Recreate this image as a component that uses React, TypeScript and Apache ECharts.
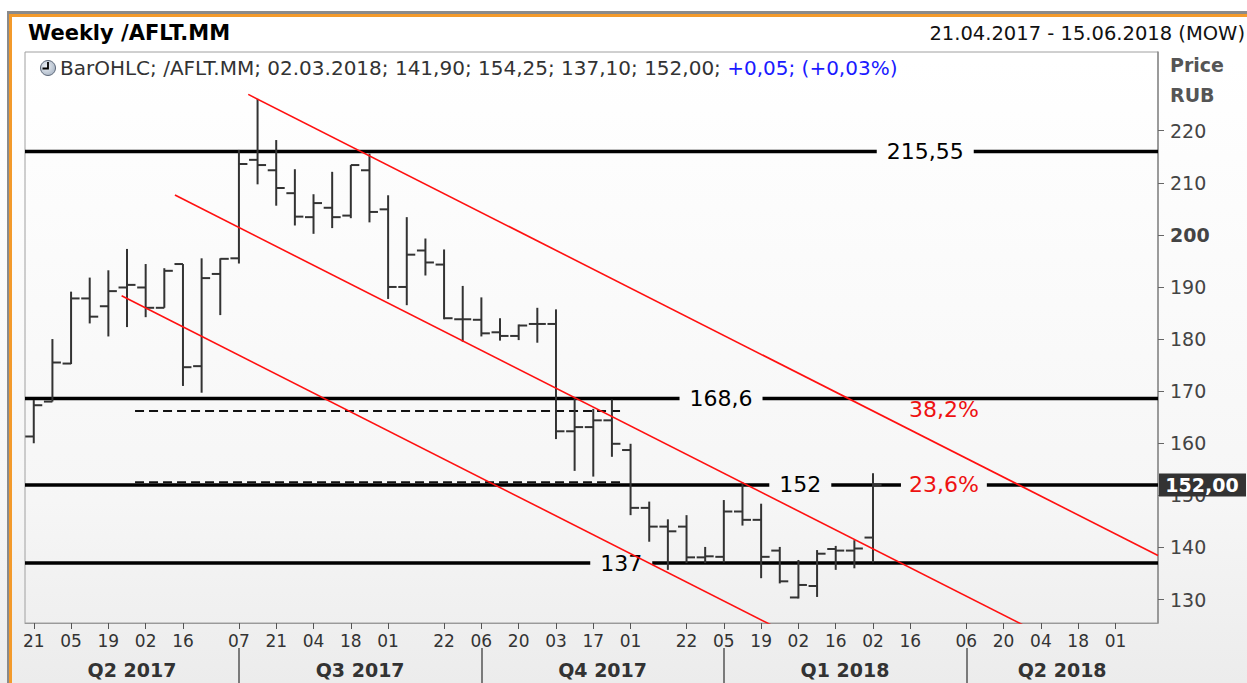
import React, { useEffect, useRef } from "react";
import * as echarts from "echarts";

const FONT = '"DejaVu Sans", Verdana, sans-serif';

// Weekly OHLC bars, index 0 = 21.04.2017 ... index 45 = 02.03.2018
const opens = [161.3, 168.0, 175.3, 187.8, 186.3, 189.9, 189.9, 186.0, 194.4, 174.8, 192.5, 195.5, 214.4, 212.4, 208.0, 203.4, 205.2, 203.7, 212.4, 204.9, 190.0, 197.0, 194.3, 183.8, 183.7, 181.3, 180.6, 182.9, 182.9, 162.3, 163.1, 164.4, 158.7, 147.6, 144.0, 144.0, 138.1, 138.2, 146.9, 145.3, 139.4, 130.4, 132.6, 139.7, 139.4, 141.9];
const highs = [168.3, 180.0, 189.1, 191.8, 193.2, 197.3, 194.4, 193.6, 194.4, 195.5, 195.5, 216.3, 226.1, 218.2, 212.6, 207.8, 212.1, 213.4, 215.6, 207.6, 203.4, 199.3, 197.2, 190.2, 188.0, 184.0, 182.8, 186.0, 185.7, 168.6, 166.6, 168.4, 159.9, 148.8, 145.4, 146.2, 140.1, 149.1, 152.5, 148.4, 140.1, 137.6, 139.5, 140.3, 141.4, 154.25];
const lows = [160.0, 168.0, 175.2, 183.0, 180.5, 182.3, 184.2, 186.0, 171.0, 169.7, 184.6, 194.5, 209.7, 205.6, 201.8, 200.2, 201.3, 203.2, 202.4, 187.7, 186.5, 192.2, 183.8, 179.5, 180.5, 179.7, 179.8, 179.3, 160.8, 154.7, 153.6, 157.4, 146.2, 141.1, 135.7, 137.0, 137.0, 137.1, 144.2, 134.1, 133.1, 130.2, 130.5, 135.7, 136.0, 137.1];
const closes = [167.3, 175.5, 187.8, 184.3, 189.2, 190.4, 186.0, 193.1, 174.6, 191.7, 195.4, 213.6, 213.4, 209.0, 203.5, 206.1, 203.4, 213.4, 204.4, 190.0, 196.2, 194.7, 184.0, 183.8, 181.1, 180.6, 182.6, 182.9, 162.3, 163.1, 164.4, 159.9, 147.6, 144.0, 143.1, 138.1, 138.3, 146.9, 145.3, 138.2, 133.5, 132.8, 138.8, 139.4, 139.8, 152.0];

// x-axis (week index) tick labels
const tickIdx = [0, 2, 4, 6, 8, 11, 13, 15, 17, 19, 22, 24, 26, 28, 30, 32, 35, 37, 39, 41, 43, 45, 47, 50, 52, 54, 56, 58];
const tickLabels = ["21", "05", "19", "02", "16", "07", "21", "04", "18", "01", "22", "06", "20", "03", "17", "01", "22", "05", "19", "02", "16", "02", "16", "06", "20", "04", "18", "01"];
const quarterStarts = [11, 24, 37, 50];
const quarterLabels = ["Q2 2017", "Q3 2017", "Q4 2017", "Q1 2018", "Q2 2018"];

// price axis ticks
const yTicks = [130, 140, 150, 160, 170, 180, 190, 200, 210, 220];

// horizontal levels
const levelValues = [216.0, 168.6, 152, 137];
const levelLabels = ["215,55", "168,6", "152", "137"];
const levelLabelAt = [47.8, 36.85, 41.1, 31.5];

// fibonacci labels
const fibLabels = ["38,2%", "23,6%"];
const fibValues = [166.4, 152];
const fibAt = [48.8, 48.8];

// dashed lines
const dashedLines = [
  [[5.43, 166.2], [31.5, 166.2]],
  [[5.43, 152.5], [31.5, 152.5]],
];

// red channel lines
const channelLines = [
  [[11.5, 226.97], [60.28, 138.46]],
  [[7.57, 207.64], [60.28, 112.0]],
  [[4.71, 188.32], [60.28, 87.5]],
];

const X_MIN = -0.47;
const X_MAX = 60.28;
const Y_MIN = 125.5;
const Y_MAX = 235.1;

const LEVEL_FONT = `22px ${FONT}`;

function textWidth(text: string, font: string) {
  const c = document.createElement("canvas").getContext("2d");
  if (!c) return text.length * 12;
  c.font = font;
  return c.measureText(text).width;
}

function fmt(v: number) {
  return v.toFixed(2).replace(".", ",");
}

export default function App() {
  const ref = useRef<HTMLDivElement>(null);
  useEffect(() => {
    document.body.style.margin = "0";
    const chart = echarts.init(ref.current!, null, { renderer: "svg" });

    const bounds = [X_MIN, ...quarterStarts, X_MAX];
    const quarterCenters = quarterLabels.map((_, k) => (bounds[k] + bounds[k + 1]) / 2);
    const findIdx = (arr: number[], v: number) => arr.findIndex((a) => Math.abs(a - v) < 1e-6);

    const ohlcData = opens.map((o, i) => [i, o, highs[i], lows[i], closes[i]]);
    const lastIdx = closes.length - 1;

    const lineStyleBlack = (x1: number, x2: number, y: number) => ({
      type: "line",
      shape: { x1, y1: y, x2, y2: y },
      style: { stroke: "#000", lineWidth: 3.5 },
    });

    const option: any = {
      animation: false,
      backgroundColor: "transparent",
      grid: {
        left: 25,
        right: 89,
        top: 52,
        bottom: 60,
        show: true,
        borderColor: "#a0a0a0",
        borderWidth: 1,
        backgroundColor: "transparent",
      },
      xAxis: [
        {
          type: "value",
          min: X_MIN,
          max: X_MAX,
          position: "bottom",
          axisLine: { show: true, onZero: false, lineStyle: { color: "#9a9a9a", width: 1 } },
          axisTick: { show: true, customValues: tickIdx, length: 6, lineStyle: { color: "#555", width: 1 } },
          axisLabel: {
            show: true,
            customValues: tickIdx,
            formatter: (v: number) => {
              const k = findIdx(tickIdx, v);
              return k >= 0 ? tickLabels[k] : "";
            },
            color: "#333",
            fontSize: 17,
            fontFamily: FONT,
            margin: 9,
          },
          splitLine: { show: false },
        },
        {
          type: "value",
          min: X_MIN,
          max: X_MAX,
          position: "bottom",
          offset: 25,
          axisLine: { show: false, onZero: false },
          axisTick: { show: true, customValues: quarterStarts, length: 36, lineStyle: { color: "#555", width: 1.5 } },
          axisLabel: {
            show: true,
            customValues: quarterCenters,
            formatter: (v: number) => {
              const k = findIdx(quarterCenters, v);
              return k >= 0 ? quarterLabels[k] : "";
            },
            color: "#333",
            fontSize: 19,
            fontWeight: "bold",
            fontFamily: FONT,
            margin: 12,
          },
          splitLine: { show: false },
        },
      ],
      yAxis: {
        type: "value",
        position: "right",
        min: Y_MIN,
        max: Y_MAX,
        axisLine: { show: true, onZero: false, lineStyle: { color: "#8a8a8a", width: 1.5 } },
        axisTick: { show: true, customValues: yTicks, length: 6, lineStyle: { color: "#666" } },
        axisLabel: {
          customValues: yTicks,
          formatter: (v: number) => (v === 200 ? "{b|200}" : String(v)),
          color: "#444",
          fontSize: 19,
          fontFamily: FONT,
          margin: 12,
          rich: { b: { fontWeight: "bold", color: "#444", fontSize: 19, fontFamily: FONT } },
        },
        splitLine: { show: false },
      },
      graphic: [
        { type: "rect", shape: { x: 7, y: 11, width: 1240, height: 3 }, style: { fill: "#8a8a8a" }, silent: true },
        { type: "rect", shape: { x: 9, y: 14, width: 1238, height: 3 }, style: { fill: "#f39a2b" }, silent: true },
        { type: "rect", shape: { x: 7, y: 11, width: 2, height: 672 }, style: { fill: "#8a8a8a" }, silent: true },
        { type: "rect", shape: { x: 9, y: 14, width: 3, height: 669 }, style: { fill: "#f39a2b" }, silent: true },
        {
          type: "text",
          x: 28,
          y: 33,
          style: { text: "Weekly /AFLT.MM", font: `bold 21px ${FONT}`, fill: "#000", verticalAlign: "middle" },
        },
        {
          type: "text",
          x: 1245,
          y: 33,
          style: { text: "21.04.2017 - 15.06.2018 (MOW)", font: `19.5px ${FONT}`, fill: "#111", align: "right", verticalAlign: "middle" },
        },
        {
          type: "circle",
          shape: { cx: 48, cy: 68, r: 7.5 },
          style: {
            fill: new echarts.graphic.RadialGradient(0.4, 0.4, 0.8, [
              { offset: 0, color: "#eef2f7" },
              { offset: 1, color: "#9aa8ba" },
            ]),
            stroke: "#5b6677",
            lineWidth: 1,
          },
        },
        {
          type: "polyline",
          shape: { points: [[48, 62], [48, 68.5], [42.5, 68.5]] },
          style: { stroke: "#000", lineWidth: 1.8, fill: "none" },
        },
        {
          type: "text",
          x: 60,
          y: 68,
          style: {
            text: `{n|BarOHLC; /AFLT.MM; 02.03.2018; ${fmt(opens[lastIdx])}; ${fmt(highs[lastIdx])}; ${fmt(lows[lastIdx])}; ${fmt(closes[lastIdx])};} {b|+0,05; (+0,03%)}`,
            verticalAlign: "middle",
            rich: {
              n: { fill: "#333", font: `20px ${FONT}` },
              b: { fill: "#1a1aff", font: `20px ${FONT}` },
            },
            font: `20px ${FONT}`,
          },
        },
        {
          type: "text",
          x: 1170,
          y: 65,
          style: { text: "Price", font: `bold 19px ${FONT}`, fill: "#555", verticalAlign: "middle" },
        },
        {
          type: "text",
          x: 1170,
          y: 95,
          style: { text: "RUB", font: `bold 19px ${FONT}`, fill: "#555", verticalAlign: "middle" },
        },
      ],
      series: [
        // horizontal levels
        {
          type: "custom",
          silent: true,
          clip: false,
          z: 3,
          data: levelValues.map((v, k) => [levelLabelAt[k], v]),
          encode: { x: 0, y: 1 },
          renderItem: (params: any, api: any) => {
            const k = params.dataIndex;
            const cs = params.coordSys;
            const p = api.coord([api.value(0), api.value(1)]);
            const y = p[1];
            const gaps: number[][] = [];
            const w = textWidth(levelLabels[k], LEVEL_FONT);
            gaps.push([p[0] - w / 2 - 10, p[0] + w / 2 + 10]);
            fibValues.forEach((fv, j) => {
              if (fv === levelValues[k]) {
                const q = api.coord([fibAt[j], fv]);
                const fw = textWidth(fibLabels[j], LEVEL_FONT);
                gaps.push([q[0] - fw / 2 - 8, q[0] + fw / 2 + 8]);
              }
            });
            gaps.sort((a, b) => a[0] - b[0]);
            const children: any[] = [];
            let start = cs.x;
            for (const g of gaps) {
              children.push(lineStyleBlack(start, g[0], y));
              start = g[1];
            }
            children.push(lineStyleBlack(start, cs.x + cs.width, y));
            children.push({
              type: "text",
              x: p[0],
              y,
              style: { text: levelLabels[k], font: LEVEL_FONT, fill: "#000", align: "center", verticalAlign: "middle" },
            });
            return { type: "group", children };
          },
        },
        // dashed lines
        ...dashedLines.map((pts) => ({
          type: "line",
          data: pts,
          symbol: "none",
          silent: true,
          z: 3,
          lineStyle: { color: "#111", width: 2, type: [9, 5] },
        })),
        // OHLC bars
        {
          type: "custom",
          silent: true,
          z: 4,
          data: ohlcData,
          encode: { x: 0, y: [1, 2, 3, 4] },
          renderItem: (params: any, api: any) => {
            const i = api.value(0);
            const o = api.coord([i, api.value(1)]);
            const h = api.coord([i, api.value(2)]);
            const l = api.coord([i, api.value(3)]);
            const c = api.coord([i, api.value(4)]);
            const half = 8.5;
            const style = { stroke: "#333", lineWidth: 2 };
            return {
              type: "group",
              children: [
                { type: "line", shape: { x1: h[0], y1: h[1], x2: l[0], y2: l[1] }, style },
                { type: "line", shape: { x1: o[0] - half, y1: o[1], x2: o[0], y2: o[1] }, style },
                { type: "line", shape: { x1: c[0], y1: c[1], x2: c[0] + half, y2: c[1] }, style },
              ],
            };
          },
        },
        // red channel
        ...channelLines.map((pts) => ({
          type: "line",
          data: pts,
          symbol: "none",
          silent: true,
          clip: true,
          z: 5,
          lineStyle: { color: "#ff1010", width: 1.6 },
        })),
        // fib labels
        {
          type: "custom",
          silent: true,
          clip: false,
          z: 6,
          data: fibValues.map((v, j) => [fibAt[j], v]),
          encode: { x: 0, y: 1 },
          renderItem: (params: any, api: any) => {
            const p = api.coord([api.value(0), api.value(1)]);
            return {
              type: "text",
              x: p[0],
              y: p[1],
              style: { text: fibLabels[params.dataIndex], font: LEVEL_FONT, fill: "#ee1111", align: "center", verticalAlign: "middle" },
            };
          },
        },
        // last price tag
        {
          type: "custom",
          silent: true,
          clip: false,
          z: 10,
          data: [[lastIdx, closes[lastIdx]]],
          encode: { x: 0, y: 1 },
          renderItem: (params: any, api: any) => {
            const cs = params.coordSys;
            const p = api.coord([api.value(0), api.value(1)]);
            const x0 = cs.x + cs.width + 1;
            return {
              type: "group",
              children: [
                { type: "rect", shape: { x: x0, y: p[1] - 11.5, width: 87, height: 23 }, style: { fill: "#333" } },
                {
                  type: "text",
                  x: x0 + 43,
                  y: p[1],
                  style: { text: fmt(api.value(1)), font: `bold 19px ${FONT}`, fill: "#fff", align: "center", verticalAlign: "middle" },
                },
              ],
            };
          },
        },
      ],
    };

    chart.setOption(option);
    return () => chart.dispose();
  }, []);

  return (
    <div
      ref={ref}
      style={{
        width: 1247,
        height: 683,
        background: "linear-gradient(to bottom, #ffffff 0px, #ffffff 60px, #f6f6f6 500px, #ececec 683px)",
      }}
    />
  );
}
